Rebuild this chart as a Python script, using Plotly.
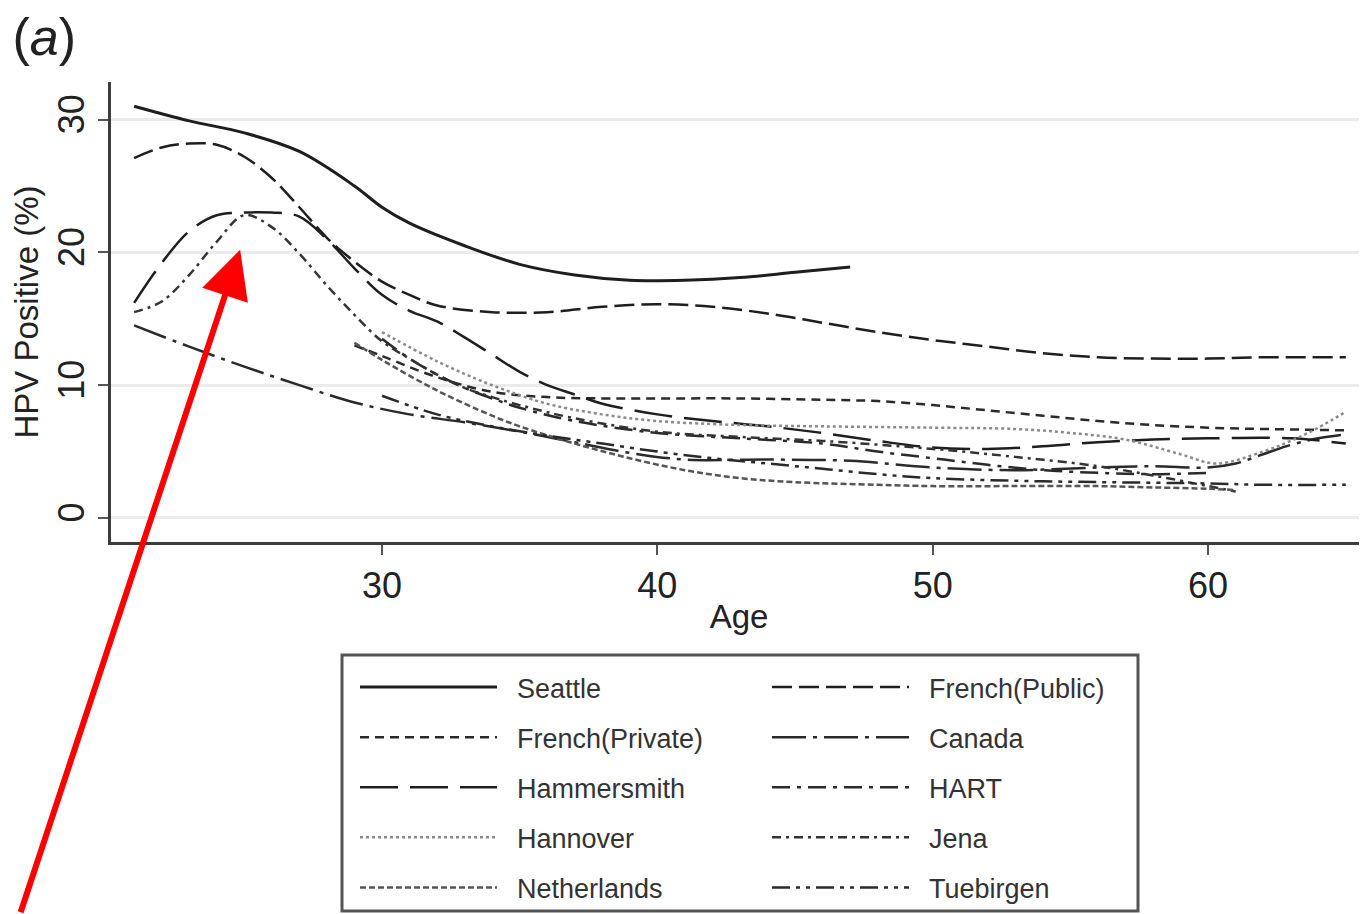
import plotly.graph_objects as go

FONT = "Liberation Sans, Arial, sans-serif"

# ---------------- data ----------------
seattle_age = [21, 23, 25, 27, 29, 30, 31, 33, 35, 37, 39, 41, 43, 45, 47]
seattle_pos = [31.0, 29.9, 29.0, 27.6, 25.0, 23.4, 22.2, 20.5, 19.1, 18.3, 17.9, 17.9, 18.1, 18.5, 18.9]

frpub_age = [21, 22, 23, 24, 25, 26, 27, 28, 29, 30, 31, 32, 34, 36, 38, 40, 42, 44, 46, 48, 50, 52, 54, 56, 58, 60, 62, 65]
frpub_pos = [27.1, 27.9, 28.2, 28.1, 27.2, 25.6, 23.4, 21.1, 19.3, 17.8, 16.8, 16.0, 15.5, 15.5, 15.9, 16.1, 15.9, 15.4, 14.7, 14.0, 13.4, 12.9, 12.4, 12.1, 12.0, 12.0, 12.1, 12.1]

frpriv_age = [29, 30, 32, 34, 36, 38, 40, 43, 46, 48, 50, 52, 54, 56, 58, 60, 62, 65]
frpriv_pos = [13.0, 12.2, 10.6, 9.5, 9.1, 9.0, 9.0, 9.0, 8.9, 8.8, 8.5, 8.1, 7.7, 7.3, 7.0, 6.8, 6.7, 6.6]

canada_age = [21, 23, 25, 27, 29, 31, 33, 35, 37, 39, 41, 44, 47, 50, 53, 56, 58, 60, 61, 62, 63, 64, 65]
canada_pos = [14.5, 12.9, 11.4, 10.0, 8.7, 7.8, 7.2, 6.5, 5.7, 4.9, 4.4, 4.4, 4.3, 3.8, 3.6, 3.8, 3.9, 3.8, 4.1, 4.8, 5.5, 6.0, 6.3]

hamm_age = [21, 22, 23, 24, 25, 26, 27, 28, 29, 30, 31, 32, 33, 34, 35, 36, 37, 38, 40, 42, 44, 46, 48, 50, 52, 54, 56, 58, 60, 63, 65]
hamm_pos = [16.2, 19.2, 21.6, 22.8, 23.0, 23.0, 22.7, 21.0, 18.8, 16.8, 15.6, 14.8, 13.6, 12.3, 11.0, 10.0, 9.3, 8.6, 7.8, 7.3, 6.9, 6.4, 5.8, 5.3, 5.2, 5.4, 5.7, 5.9, 6.0, 6.0, 5.6]

hart_age = [30, 31, 32, 33, 34, 35, 37, 40, 43, 46, 48, 50, 52, 54, 56, 58, 60]
hart_pos = [13.5, 12.0, 10.8, 9.8, 9.0, 8.3, 7.3, 6.4, 6.0, 5.6, 5.0, 4.5, 4.0, 3.6, 3.4, 3.3, 3.4]

hann_age = [30, 32, 34, 36, 38, 40, 43, 46, 50, 53, 55, 57, 59, 60.3, 62, 63, 64, 65]
hann_pos = [14.0, 11.8, 10.0, 8.6, 7.8, 7.3, 7.0, 6.9, 6.8, 6.7, 6.4, 5.9, 4.8, 4.1, 5.0, 5.8, 6.8, 8.0]

jena_age = [21, 22, 23, 24, 25, 26, 27, 28, 29, 30, 31, 32, 33, 34, 35, 37, 40, 43, 46, 50, 53, 56, 58, 60, 61]
jena_pos = [15.5, 16.3, 18.3, 20.8, 22.8, 21.9, 19.9, 17.5, 15.3, 13.3, 12.0, 10.8, 9.8, 9.1, 8.5, 7.5, 6.5, 6.1, 5.8, 5.2, 4.6, 3.9, 3.2, 2.4, 2.0]

neth_age = [29, 30, 32, 34, 35, 37, 39, 41, 43, 45, 48, 50, 53, 56, 58, 60, 61]
neth_pos = [13.2, 11.9, 9.6, 7.7, 6.9, 5.6, 4.5, 3.6, 3.0, 2.7, 2.5, 2.4, 2.4, 2.4, 2.3, 2.2, 2.1]

tueb_age = [30, 32, 34, 36, 38, 40, 42, 44, 46, 48, 50, 53, 56, 60, 62, 65]
tueb_pos = [9.2, 7.8, 6.9, 6.2, 5.6, 5.0, 4.5, 4.1, 3.7, 3.3, 3.0, 2.8, 2.7, 2.6, 2.5, 2.5]

x_ticks = [30, 40, 50, 60]
y_ticks = [0, 10, 20, 30]

# ---------------- styles ----------------
series = [
    ("Seattle", seattle_age, seattle_pos, "solid", "#1e1e1e", 3.0, "legend"),
    ("French(Public)", frpub_age, frpub_pos, "20px,7px", "#1e1e1e", 2.5, "legend2"),
    ("French(Private)", frpriv_age, frpriv_pos, "9px,6px", "#2a2a2a", 2.5, "legend"),
    ("Canada", canada_age, canada_pos, "34px,7px,4px,7px", "#2a2a2a", 2.5, "legend2"),
    ("Hammersmith", hamm_age, hamm_pos, "38px,12px", "#1e1e1e", 2.5, "legend"),
    ("HART", hart_age, hart_pos, "18px,7px,4px,7px", "#2a2a2a", 2.5, "legend2"),
    ("Hannover", hann_age, hann_pos, "3px,3px", "#8a8a8a", 2.5, "legend"),
    ("Jena", jena_age, jena_pos, "9px,5px,3px,5px", "#333333", 2.5, "legend2"),
    ("Netherlands", neth_age, neth_pos, "6px,3px", "#555555", 2.5, "legend"),
    ("Tuebirgen", tueb_age, tueb_pos, "18px,6px,4px,6px,4px,6px", "#2a2a2a", 2.5, "legend2"),
]

NBSP = "\u00a0"

fig = go.Figure()
for name, ages, vals, dash, color, width, leg in series:
    fig.add_trace(go.Scatter(
        x=ages, y=vals, mode="lines", name=NBSP * 2 + name,
        line=dict(color=color, width=width, dash=dash, shape="spline", smoothing=1.0),
        legend=leg, legendgroup=name, hoverinfo="skip",
    ))

# the page adds an 8 px body margin, so figure = window minus 8 px
OFF = 8
W, H = 1367 - OFF, 914 - OFF
L, R, T = 111 - OFF, 0, 82 - OFF
B = H - (542 - OFF)
PW, PH = W - L - R, H - T - B


def px_x(p):  # page pixel -> paper x
    return (p - OFF - L) / PW


def px_y(p):  # page pixel -> paper y
    return (H - B - (p - OFF)) / PH


legend_common = dict(
    orientation="v", xanchor="left", yanchor="top",
    font=dict(family=FONT, size=27, color="#333333"),
    itemwidth=137, tracegroupgap=12, traceorder="grouped",
    bgcolor="rgba(0,0,0,0)", borderwidth=0, itemclick=False, itemdoubleclick=False,
)

fig.update_layout(
    width=W, height=H,
    margin=dict(l=L, r=R, t=T, b=B, autoexpand=False),
    paper_bgcolor="white", plot_bgcolor="white",
    font=dict(family=FONT, color="#222222"),
    title=dict(text="(<i>a</i>)", x=0.0033, xref="container", xanchor="left",
               y=0.988, yref="container", yanchor="top",
               font=dict(family=FONT, size=52, color="#222222")),
    xaxis=dict(
        range=[20.16, 65.77], tickvals=x_ticks, ticks="outside", ticklen=10, tickwidth=2,
        tickcolor="#555555", showline=True, linewidth=3, linecolor="#3c3c3c",
        showgrid=False, zeroline=False,
        tickfont=dict(family=FONT, size=36, color="#222222"),
        title=dict(text="Age", font=dict(family=FONT, size=33, color="#222222"), standoff=0),
    ),
    yaxis=dict(
        range=[-1.81, 32.83], tickvals=y_ticks, ticks="outside", ticklen=10, tickwidth=2,
        tickcolor="#555555", showline=True, linewidth=3, linecolor="#3c3c3c",
        showgrid=True, gridcolor="#ebebeb", gridwidth=3, zeroline=False,
        tickangle=-90,
        tickfont=dict(family=FONT, size=36, color="#222222"),
        title=dict(text="HPV Positive (%)", font=dict(family=FONT, size=33, color="#222222"), standoff=14),
    ),
    legend=dict(x=px_x(355), y=px_y(663), **legend_common),
    legend2=dict(x=px_x(767), y=px_y(663), **legend_common),
    showlegend=True,
)

# legend frame
fig.add_shape(type="rect", xref="paper", yref="paper",
              x0=px_x(342), x1=px_x(1138), y0=px_y(911), y1=px_y(655),
              line=dict(color="#555555", width=3), fillcolor="rgba(0,0,0,0)", layer="above")

# red arrow pointing at the Jena peak
fig.add_annotation(x=24.85, y=20.2, xref="x", yref="y", text="", showarrow=True,
                   ax=-220, ay=664, axref="pixel", ayref="pixel",
                   arrowhead=2, arrowsize=1.6, arrowwidth=6, arrowcolor="#ff0000", standoff=0)

fig.write_html("out.html")
